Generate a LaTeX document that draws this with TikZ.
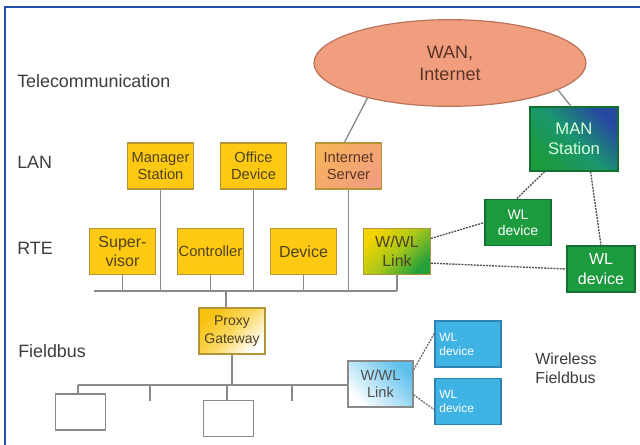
\documentclass[tikz,border=0pt]{standalone}
\usepackage{fontspec}
\setmainfont{Liberation Sans}
\usetikzlibrary{shapes.geometric,calc}
\definecolor{frameblue}{HTML}{1F4FA8}
\definecolor{ygold}{HTML}{FDC912}
\definecolor{yborder}{HTML}{B5953A}
\definecolor{ytext}{HTML}{4F4220}
\definecolor{lgray}{HTML}{8A8A8A}
\definecolor{dgray}{HTML}{505050}
\definecolor{salmon}{HTML}{F19E7E}
\definecolor{salmonb}{HTML}{B8735A}
\definecolor{inetorange}{HTML}{F6B25C}
\definecolor{wtext}{HTML}{5A3428}
\definecolor{wlgreen}{HTML}{1C9A3E}
\definecolor{wlgreenb}{HTML}{127030}
\definecolor{wlblue}{HTML}{3FB3E4}
\definecolor{wlblueb}{HTML}{2C84B0}
\definecolor{labtext}{HTML}{3C3C3C}
\definecolor{manblue}{HTML}{2648A0}
\definecolor{manmid}{HTML}{1A9670}
\definecolor{linky}{HTML}{F2D400}
\definecolor{linkg}{HTML}{22A03C}
\definecolor{linkm}{HTML}{A8C81A}
\definecolor{proxyy}{HTML}{F7C210}
\definecolor{proxym}{HTML}{F9D860}
\definecolor{flinkb}{HTML}{5DC0EC}
\begin{document}
\begin{tikzpicture}[x=0.75pt,y=-0.75pt,
  lab/.style={anchor=west,inner sep=0pt,text=labtext,font=\fontsize{13.4}{15}\selectfont},
  boxbase/.style={rectangle,inner sep=1pt,align=center,line width=0.8pt},
  ybox/.style={boxbase,draw=yborder,fill=ygold,text=ytext,minimum width=50pt,minimum height=34.5pt},
  lanfont/.style={font=\fontsize{11}{12.8}\selectfont},
  rtefont/.style={font=\fontsize{12}{14}\selectfont},
  wlg/.style={boxbase,draw=wlgreenb,fill=wlgreen,text=white},
  wlb/.style={boxbase,draw=wlblueb,fill=wlblue,text=white,align=left,text width=43pt,font=\fontsize{9}{10.5}\selectfont,minimum width=49.5pt,minimum height=34.5pt},
  wbox/.style={rectangle,draw=lgray,line width=0.9pt,fill=white},
  bus/.style={draw=lgray,line width=1pt},
  fbus/.style={draw=lgray,line width=2pt},
  wl/.style={draw=dgray,line width=1pt,dash pattern=on 1.5pt off 0.8pt}]
\useasboundingbox (0,0) rectangle (640,445);
% frame
\draw[frameblue,line width=1.6pt] (5,445) -- (5,7) -- (640,7);
% level labels
\node[lab] (ltel) at (17,81) {Telecommunication};
\node[lab] (llan) at (17,162) {LAN};
\node[lab] (lrte) at (17,248) {RTE};
\node[lab] (lfb) at (18,351) {Fieldbus};
\node[lab,align=left,font=\fontsize{12}{14.2}\selectfont] (lwfb) at (535,368.5) {Wireless\\Fieldbus};
% WAN
\node[ellipse,draw=salmonb,line width=0.9pt,fill=salmon,minimum width=204pt,minimum height=65pt,align=center,text=wtext,font=\fontsize{13.5}{16.5}\selectfont] (wan) at (450,63) {WAN,\\Internet};
% LAN row
\node[ybox,lanfont] (mgr) at (160.5,166) {Manager\\Station};
\node[ybox,lanfont] (office) at (253.5,166) {Office\\Device};
\node[ybox,lanfont,top color=inetorange,bottom color=salmon,shading angle=45,text=wtext] (inet) at (348.5,166) {Internet\\Server};
\node[boxbase,draw=wlgreenb,top color=manblue,bottom color=wlgreen,middle color=manmid,shading angle=-45,text=green!15!white,font=\fontsize{12.5}{14.5}\selectfont,minimum width=66pt,minimum height=48pt] (man) at (574,139) {MAN\\Station};
% RTE row
\node[ybox,rtefont] (sup) at (122.5,251.5) {Super-\\visor};
\node[ybox,lanfont] (ctrl) at (210.5,251.5) {Controller};
\node[ybox,rtefont] (dev) at (303.5,251.5) {Device};
\node[ybox,rtefont,top color=linky,bottom color=linkg,middle color=linkm,shading angle=45] (link) at (397,251.5) {W/WL\\Link};
\node[wlg,font=\fontsize{10.5}{12}\selectfont,minimum width=49.5pt,minimum height=35pt] (wl1) at (518,222.5) {WL\\device};
\node[wlg,font=\fontsize{12}{15}\selectfont,minimum width=51pt,minimum height=34.5pt] (wl2) at (601,269) {WL\\device};
% RTE bus
\coordinate (busL) at (94,291);
\coordinate (busR) at (link.south |- busL);
\draw[bus] (busL) -- (busR);
\foreach \n in {mgr,office,sup,ctrl,dev,link}{\draw[bus] (\n.south) -- (\n.south |- busL);}
\draw[bus] (inet.south) -- (inet.south |- busL);
\draw[bus] (wan.203) -- (inet.100);
\draw[bus] (wan.-14) -- (man.95);
% wireless links
\draw[wl] (man.228) -- (wl1.93);
\draw[wl] (man.-63) -- (wl2.north);
\draw[wl] (link.21) -- (wl1.west);
\draw[wl] (link.-19) -- (wl2.west);
% proxy
\node[ybox,font=\fontsize{10.5}{13.5}\selectfont,top color=proxyy,bottom color=white,middle color=proxym,shading angle=45,minimum width=49.5pt] (proxy) at (232,331) {Proxy\\Gateway};
\coordinate (pj) at (226,291);
\draw[bus] (pj) -- (pj |- proxy.north);
% fieldbus
\node[boxbase,draw=lgray,top color=flinkb,bottom color=white,shading angle=-45,text=dgray,font=\fontsize{11}{12.8}\selectfont,minimum width=48.75pt,minimum height=34.5pt] (flink) at (380.5,384) {W/WL\\Link};
\coordinate (fbL) at (78,385);
\draw[fbus] (fbL) -- (flink.west |- fbL);
\draw[bus] (proxy.south) -- (proxy.south |- fbL);
\node[wlb] (bwl1) at (468,344) {WL\\device};
\node[wlb] (bwl2) at (468,401.5) {WL\\device};
\draw[wl,draw=dgray!80] (flink.23) -- (bwl1.162);
\draw[wl,draw=dgray!80] (flink.-18) -- (bwl2.194);
\node[wbox,minimum width=38pt,minimum height=27pt] (b1) at (80.5,412) {};
\node[wbox,minimum width=37pt,minimum height=26.5pt] (b2) at (228.5,418.5) {};
\draw[bus,line width=1.6pt] (fbL) -- (fbL |- b1.north);
\coordinate (b2j) at (227,385);
\draw[bus,line width=1.6pt] (b2j) -- (b2j |- b2.north);
\coordinate (t1a) at (150,385);
\coordinate (t1b) at (150,401);
\coordinate (t2a) at (292,385);
\coordinate (t2b) at (292,401);
\draw[bus] (t1a) -- (t1b);
\draw[bus] (t2a) -- (t2b);
\end{tikzpicture}
\end{document}
